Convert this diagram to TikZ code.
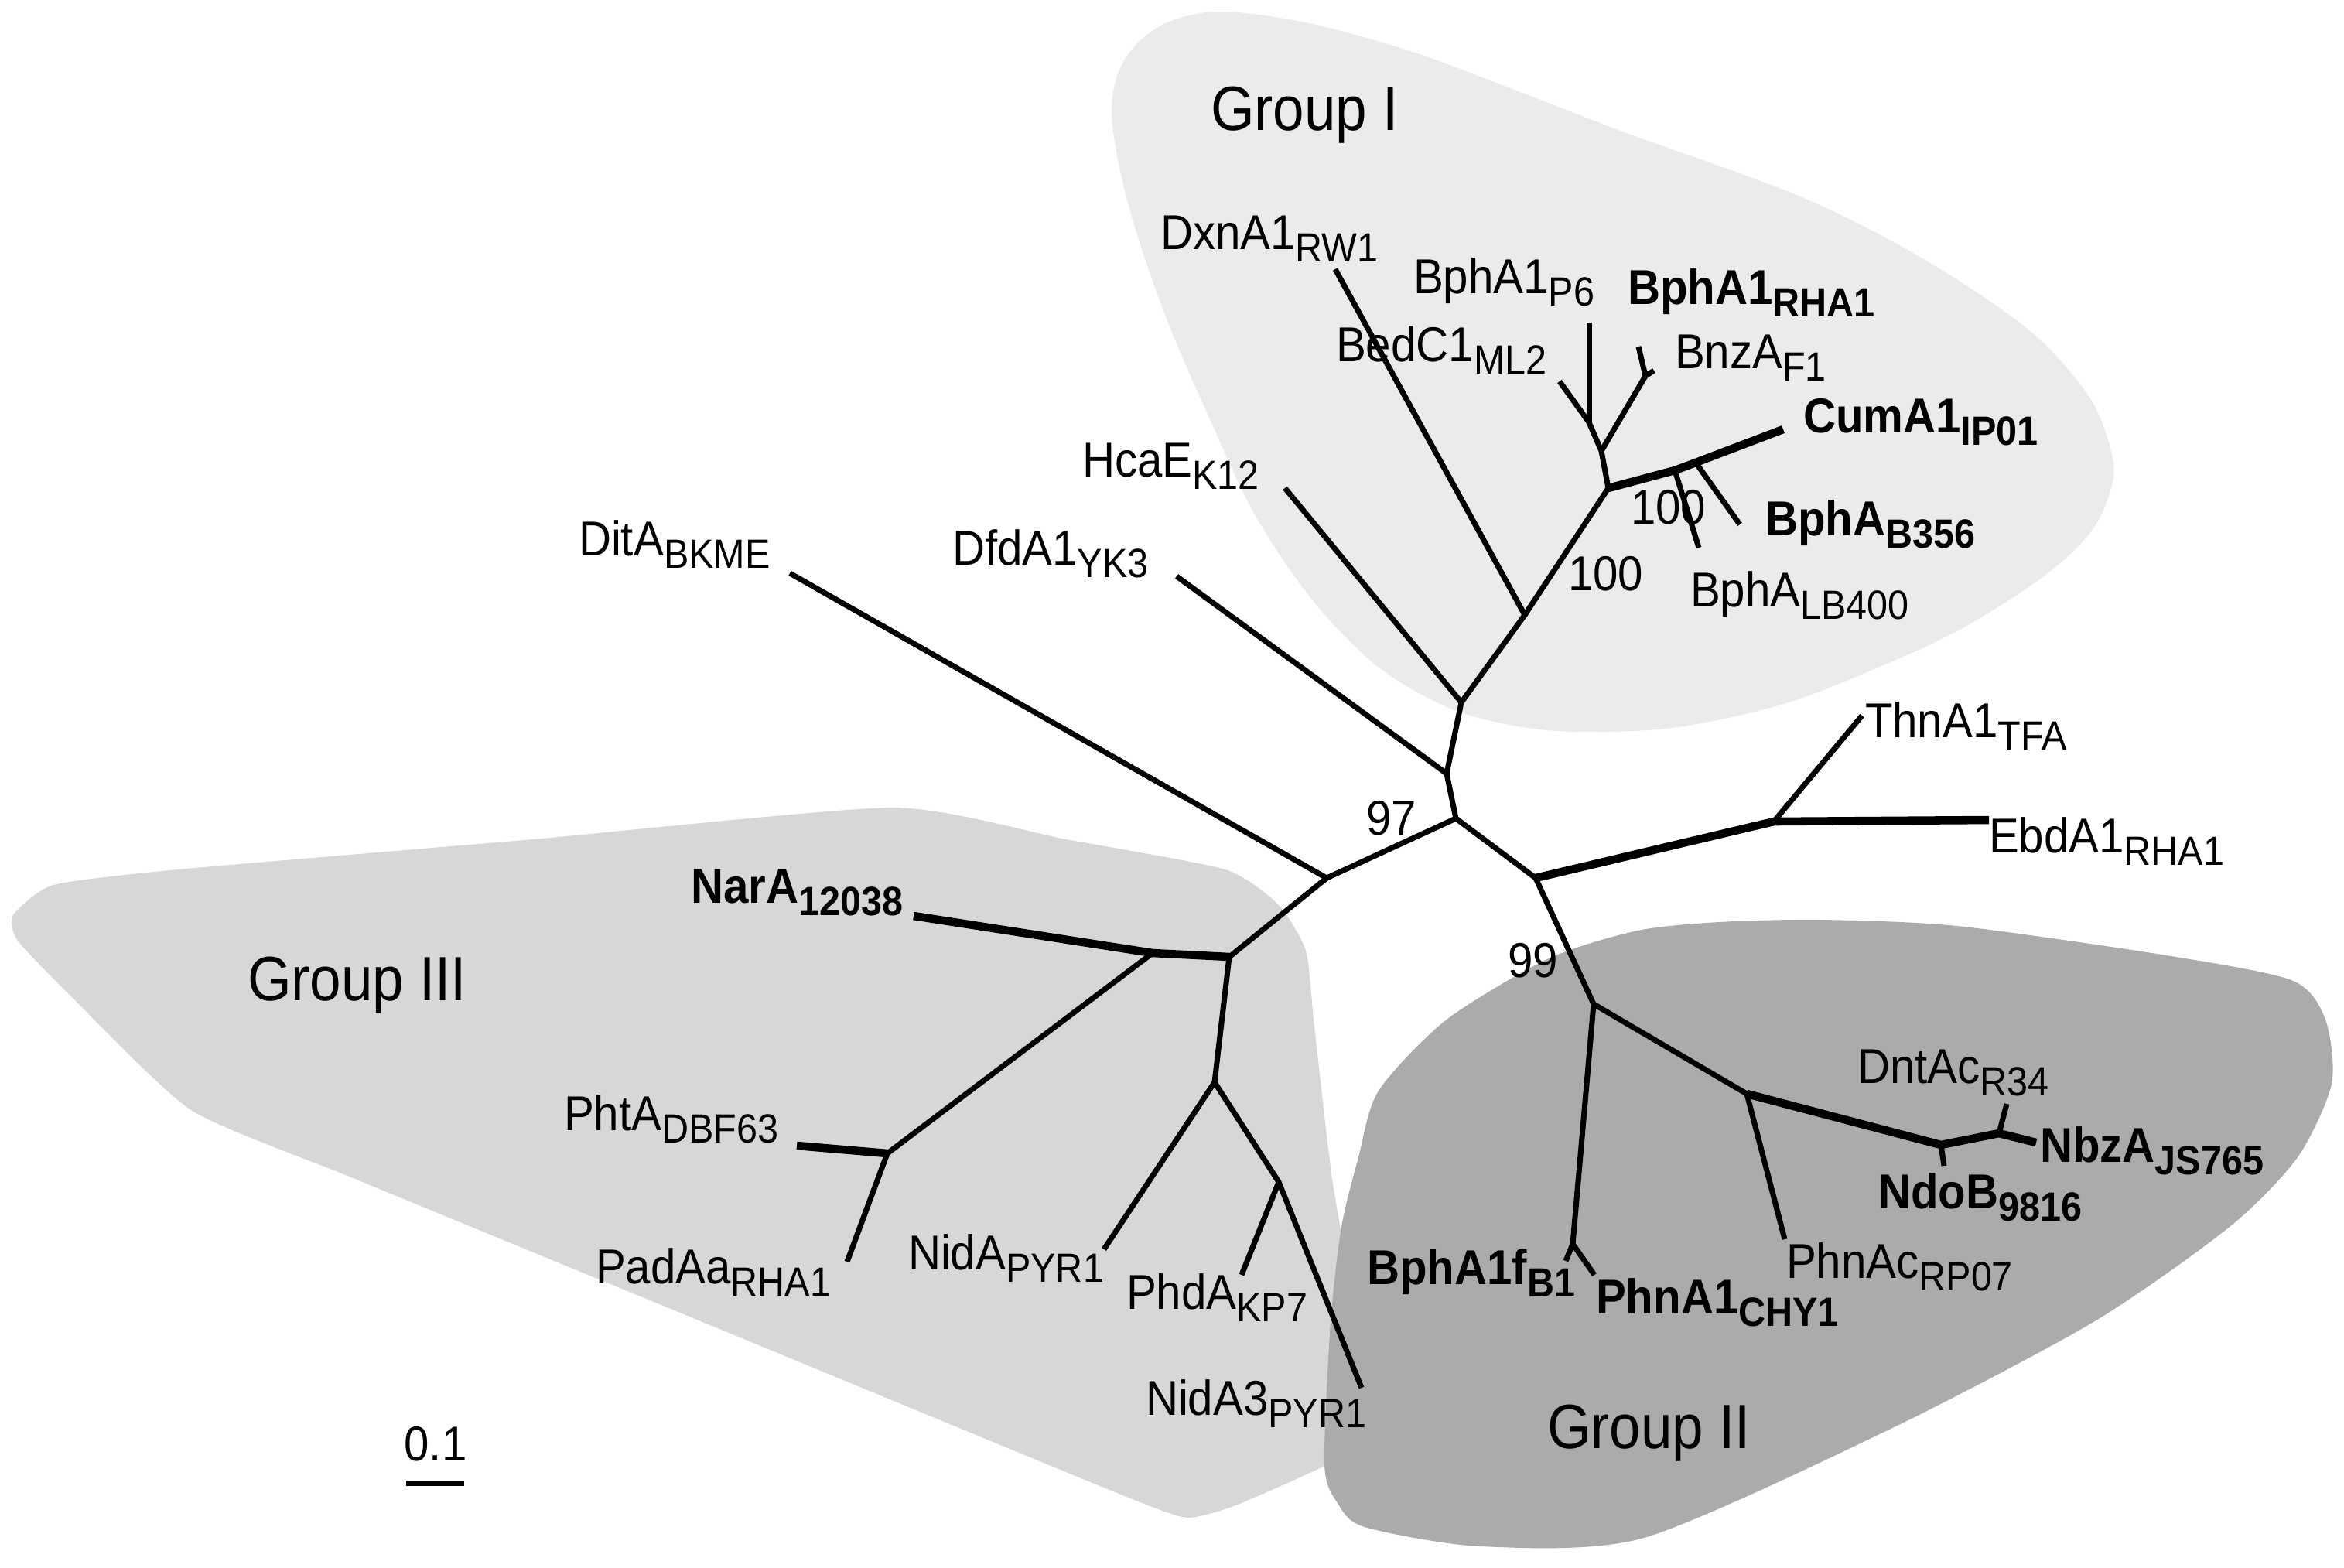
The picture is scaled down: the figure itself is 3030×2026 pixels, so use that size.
\documentclass[tikz,border=0pt]{standalone}
\usepackage{fontspec}
\setmainfont{Liberation Sans}[FakeStretch=0.92]
\newfontfamily\grpfont{Liberation Sans}[FakeStretch=0.9]
\definecolor{grpone}{HTML}{EBEBEB}
\definecolor{grptwo}{HTML}{ABABAB}
\definecolor{grpthree}{HTML}{D7D7D7}
\newcommand{\strain}[2]{#1\raisebox{-4.8pt}{\fontsize{15}{15}\selectfont#2}}
\begin{document}
\begin{tikzpicture}[x=0.01cm,y=-0.01cm,inner sep=0pt,outer sep=0pt,
  br/.style={line width=2pt},
  thk/.style={line width=3pt},
  lab/.style={anchor=base west,font=\fontsize{18}{20}\selectfont},
  blab/.style={anchor=base west,font=\fontsize{18}{20}\selectfont\bfseries},
  grp/.style={anchor=base west,font=\grpfont\fontsize{23}{26}\selectfont}]
\useasboundingbox (0,0) rectangle (3030,2026);
% groups
\fill[grpone] plot[smooth cycle,tension=0.55] coordinates {
  (1581,15) (1692,30) (1826,67) (1960,117) (2100,171) (2327,254) (2485,334)
  (2622,426) (2695,505) (2722,560) (2732,616) (2706,683) (2643,744) (2537,812)
  (2432,861) (2306,910) (2169,940) (2053,946) (1969,940) (1875,916) (1780,861)
  (1696,775) (1622,665) (1564,542) (1506,407) (1460,270) (1438,162) (1443,101)
  (1469,57) (1514,27)};
\fill[grpthree] plot[smooth cycle,tension=0.35] coordinates {
  (1154,1044) (1378,1085) (1584,1124) (1653,1170) (1688,1229) (1699,1327)
  (1722,1524) (1756,1720) (1774,1857) (1607,1942) (1538,1962) (1492,1949)
  (1378,1903) (918,1713) (459,1524) (247,1435) (92,1288) (23,1216) (17,1183)
  (69,1144) (230,1124) (689,1085)};
\fill[grptwo] plot[smooth cycle,tension=0.45] coordinates {
  (1782,1410) (1870,1318) (2002,1239) (2117,1203) (2222,1192) (2354,1189)
  (2530,1197) (2794,1234) (2962,1267) (3006,1318) (3014,1401) (2970,1496)
  (2882,1586) (2706,1709) (2442,1848) (2125,1988) (1914,1999) (1764,1974)
  (1729,1943) (1712,1893) (1720,1709) (1734,1586) (1756,1496)};
\node[grp] (grpI) at (1565,168) {Group I};
\node[grp] (grpII) at (2000,1872) {Group II};
\node[grp] (grpIII) at (320,1293) {Group III};
% inner nodes
\coordinate (a) at (1882,1058);
\coordinate (b) at (1870,1000);
\coordinate (c) at (1889,908);
\coordinate (h) at (1971,795);
\coordinate (i) at (2079,631);
\coordinate (j) at (2070,583);
\coordinate (k) at (2054,546);
\coordinate (l) at (2127,486);
\coordinate (m1) at (2165,608);
\coordinate (m2) at (2192,598);
\coordinate (d) at (1715,1135);
\coordinate (n) at (1589,1237);
\coordinate (o) at (1490,1232);
\coordinate (p) at (1147,1491);
\coordinate (q) at (1570,1399);
\coordinate (r) at (1653,1528);
\coordinate (e) at (1985,1135);
\coordinate (f) at (2293,1062);
\coordinate (g) at (2060,1298);
\coordinate (s) at (2033,1608);
\coordinate (t) at (2258,1414);
\coordinate (u) at (2509,1480);
\coordinate (v) at (2584,1465);
% tips
\coordinate (dxnA) at (1726,348);
\coordinate (bedC) at (2016,493);
\coordinate (p6) at (2054,417);
\coordinate (rha1) at (2118,448);
\coordinate (bnzA) at (2138,479);
\coordinate (cumA) at (2305,555);
\coordinate (b356) at (2249,678);
\coordinate (lb400) at (2196,708);
\coordinate (hcaE) at (1661,631);
\coordinate (dfdA) at (1521,745);
\coordinate (ditA) at (1021,741);
\coordinate (narA) at (1181,1184);
\coordinate (phtA) at (1030,1481);
\coordinate (padAa) at (1095,1631);
\coordinate (nidA) at (1427,1615);
\coordinate (phdA) at (1605,1648);
\coordinate (nidA3) at (1760,1794);
\coordinate (thnA) at (2407,925);
\coordinate (ebdA) at (2571,1060);
\coordinate (bphf) at (2024,1630);
\coordinate (phnA1) at (2061,1648);
\coordinate (phnAc) at (2307,1602);
\coordinate (ndoB) at (2513,1507);
\coordinate (dntAc) at (2594,1427);
\coordinate (nbzA) at (2632,1477);
% branches
\draw[br] (hcaE) -- (c) -- (h) -- (dxnA);
\draw[br] (h) -- (i) -- (j) -- (k) -- (bedC);
\draw[br] (k) -- (p6);
\draw[br] (j) -- (l) -- (rha1);
\draw[br] (l) -- (bnzA);
\draw[thk] (i) -- (m1) -- (m2) -- (cumA);
\draw[br] (m1) -- (lb400);
\draw[br] (m2) -- (b356);
\draw[br] (dfdA) -- (b) -- (c);
\draw[br] (b) -- (a) -- (d) -- (ditA);
\draw[br] (d) -- (n) -- (q) -- (r) -- (nidA3);
\draw[thk] (n) -- (o) -- (narA);
\draw[br] (o) -- (p) -- (padAa);
\draw[thk] (p) -- (phtA);
\draw[br] (q) -- (nidA);
\draw[br] (r) -- (phdA);
\draw[br] (a) -- (e) -- (g) -- (s) -- (bphf);
\draw[br] (s) -- (phnA1);
\draw[thk] (e) -- (f) -- (ebdA);
\draw[br] (f) -- (thnA);
\draw[br] (g) -- (t) -- (phnAc);
\draw[thk] (t) -- (u) -- (v) -- (nbzA);
\draw[br] (u) -- (ndoB);
\draw[br] (v) -- (dntAc);
% labels
\node[lab] (ldxnA) at (1500,322) {\strain{DxnA1}{RW1}};
\node[lab] (lp6) at (1827,379) {\strain{BphA1}{P6}};
\node[blab] (lrha1) at (2104,393) {\strain{BphA1}{RHA1}};
\node[lab] (lbedC) at (1727,467) {\strain{BedC1}{ML2}};
\node[lab] (lbnzA) at (2165,476) {\strain{BnzA}{F1}};
\node[blab] (lcumA) at (2331,559) {\strain{CumA1}{IP01}};
\node[blab] (lb356) at (2282,692) {\strain{BphA}{B356}};
\node[lab] (llb400) at (2185,784) {\strain{BphA}{LB400}};
\node[lab] (bsi) at (2108,677) {100};
\node[lab] (bsh) at (2027,763) {100};
\node[lab] (lhcaE) at (1399,616) {\strain{HcaE}{K12}};
\node[lab] (ldfdA) at (1231,730) {\strain{DfdA1}{YK3}};
\node[lab] (lditA) at (748,718) {\strain{DitA}{BKME}};
\node[lab] (lthnA) at (2411,953) {\strain{ThnA1}{TFA}};
\node[lab] (lebdA) at (2571,1102) {\strain{EbdA1}{RHA1}};
\node[lab] (bsa) at (1766,1079) {97};
\node[lab] (bsg) at (1949,1263) {99};
\node[blab] (lnarA) at (893,1167) {\strain{NarA}{12038}};
\node[lab] (lphtA) at (729,1461) {\strain{PhtA}{DBF63}};
\node[lab] (lpadAa) at (770,1659) {\strain{PadAa}{RHA1}};
\node[lab] (lnidA) at (1174,1641) {\strain{NidA}{PYR1}};
\node[lab] (lphdA) at (1456,1692) {\strain{PhdA}{KP7}};
\node[lab] (lnidA3) at (1481,1829) {\strain{NidA3}{PYR1}};
\node[blab] (lbphf) at (1767,1660) {\strain{BphA1f}{B1}};
\node[blab] (lphnA1) at (2063,1698) {\strain{PhnA1}{CHY1}};
\node[lab] (lphnAc) at (2309,1652) {\strain{PhnAc}{RP07}};
\node[lab] (ldntAc) at (2401,1400) {\strain{DntAc}{R34}};
\node[blab] (lnbzA) at (2637,1502) {\strain{NbzA}{JS765}};
\node[blab] (lndoB) at (2428,1562) {\strain{NdoB}{9816}};
% scale bar
\coordinate (sbl) at (525,1917);
\coordinate (sbr) at (600,1917);
\draw[line width=2pt] (sbl) -- (sbr);
\node[anchor=base,font=\fontsize{18}{20}\selectfont] (scale) at (563,1888) {0.1};
\end{tikzpicture}
\end{document}
